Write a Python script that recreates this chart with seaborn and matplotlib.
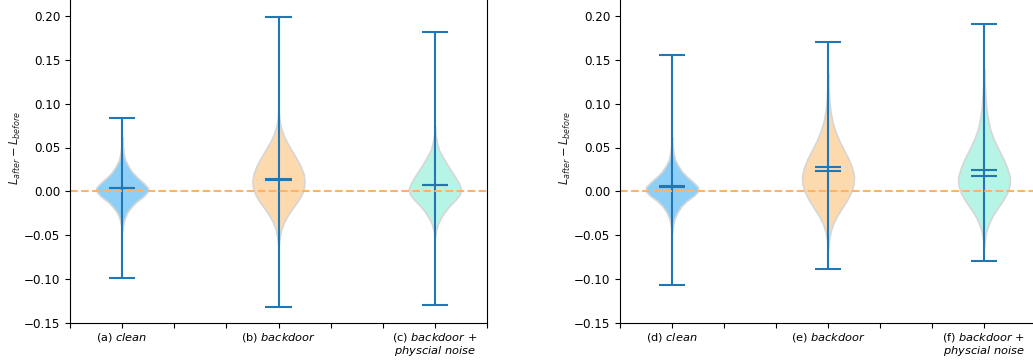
import numpy as np
import matplotlib
matplotlib.use("Agg")
import matplotlib.pyplot as plt
import seaborn as sns

# violin positions and labels
positions = [1, 2.5, 4]
labels_left = [r'(a) $\it{clean}$', r'(b) $\it{backdoor}$',
               r'(c) $\it{backdoor}$ $\it{+}$' + '\n' + r'$\it{physcial}$ $\it{noise}$']
labels_right = [r'(d) $\it{clean}$', r'(e) $\it{backdoor}$',
                r'(f) $\it{backdoor}$ $\it{+}$' + '\n' + r'$\it{physcial}$ $\it{noise}$']
fill_colors = ['#8ECFF7', '#FDD9AE', '#B6F5E6']

# density profiles (value, relative width)
a_y = [0.062, 0.052, 0.044, 0.036, 0.029, 0.022, 0.016, 0.010, 0.004, -0.001, -0.006,
       -0.012, -0.018, -0.024, -0.031, -0.038, -0.046]
a_w = [0, 0.6, 1.5, 3, 6, 10, 15, 21, 26, 25, 21, 14, 9, 5, 2.5, 1, 0]
b_y = [0.095, 0.084, 0.074, 0.065, 0.056, 0.047, 0.038, 0.029, 0.020, 0.012, 0.004,
       -0.004, -0.012, -0.020, -0.028, -0.036, -0.044, -0.053, -0.063]
b_w = [0, 0.6, 2, 4.5, 8, 12.5, 17, 21, 24, 25, 24.5, 22, 18, 13, 8.5, 5, 2.5, 1, 0]
c_y = [0.075, 0.065, 0.056, 0.047, 0.039, 0.031, 0.023, 0.016, 0.009, 0.003, -0.003,
       -0.009, -0.016, -0.023, -0.030, -0.037, -0.045, -0.053]
c_w = [0, 0.6, 2, 4, 8, 12, 16.5, 20.5, 24, 26, 25, 21, 15, 10, 6, 3, 1, 0]
d_y = [0.062, 0.052, 0.044, 0.036, 0.029, 0.022, 0.016, 0.011, 0.005, 0.000, -0.005,
       -0.011, -0.017, -0.024, -0.031, -0.039, -0.048]
d_w = [0, 0.6, 1.5, 3, 6, 10, 15, 20, 25, 25, 21, 14, 9, 5, 2.5, 1, 0]
e_y = [0.135, 0.118, 0.104, 0.091, 0.079, 0.068, 0.057, 0.047, 0.037, 0.027, 0.017,
       0.008, -0.001, -0.010, -0.019, -0.028, -0.037, -0.046, -0.055, -0.066]
e_w = [0, 0.5, 1.3, 2.5, 4.5, 7.5, 11.5, 16, 20.5, 24, 26, 25.5, 23, 19, 14, 9, 5, 2.5, 1, 0]
f_y = [0.140, 0.124, 0.110, 0.096, 0.083, 0.071, 0.060, 0.049, 0.038, 0.027, 0.016,
       0.007, -0.002, -0.011, -0.020, -0.029, -0.038, -0.047, -0.055, -0.063]
f_w = [0, 0.5, 1.3, 2.2, 3.8, 6, 9.5, 14, 19, 23, 26, 25.5, 23, 18.5, 13, 8, 4.5, 2, 0.8, 0]

# summary stats per violin
left_min = [-0.0984, -0.1315, -0.1295]
left_max = [0.0834, 0.1992, 0.1814]
left_mean = [0.0042, 0.0138, 0.0073]
left_median = [0.0035, 0.0132, 0.0068]
right_min = [-0.1067, -0.0888, -0.0794]
right_max = [0.1555, 0.170, 0.1905]
right_mean = [0.0058, 0.0282, 0.0241]
right_median = [0.0052, 0.0229, 0.0179]

sns.set_style("ticks")
plt.rcParams['font.family'] = ['DejaVu Sans']


def make_stats(profiles, mins, maxs, means, medians):
    out = []
    for (ys, ws), lo, hi, mu, med in zip(profiles, mins, maxs, means, medians):
        out.append(dict(coords=np.array(ys), vals=np.array(ws, dtype=float),
                        min=lo, max=hi, mean=mu, median=med))
    return out


def draw(ax, stats, labels):
    parts = ax.violin(stats, positions=positions, widths=0.5,
                      showmeans=True, showmedians=True, showextrema=True)
    for body, col in zip(parts['bodies'], fill_colors):
        body.set_facecolor(col)
        body.set_edgecolor('#D6D6D6')
        body.set_linewidth(1.2)
        body.set_alpha(1)
    for key in ['cbars', 'cmins', 'cmaxes', 'cmeans', 'cmedians']:
        parts[key].set_color('#1f77b4')
        parts[key].set_linewidth(1.5)
    ax.axhline(0, color='#FFB366', linestyle='--', linewidth=1.5)
    ax.set_xlim(0.5, 4.5)
    ax.set_ylim(-0.15, 0.25)
    ticks = np.arange(0.5, 4.51, 0.5)
    ax.set_xticks(ticks)
    tl = []
    for t in ticks:
        tl.append(labels[positions.index(t)] if t in positions else '')
    ax.set_xticklabels(tl, fontsize=8.2, linespacing=0.95)
    ax.set_yticks([-0.15, -0.10, -0.05, 0.0, 0.05, 0.10, 0.15, 0.20])
    ax.tick_params(axis='y', labelsize=8.6)
    ax.tick_params(axis='x', pad=2.5)
    ax.tick_params(colors='black', length=3.5)
    for sp in ax.spines.values():
        sp.set_color('black')
        sp.set_linewidth(0.8)
    ax.set_ylabel(r'$L_{after} - L_{before}$', fontsize=8.3, labelpad=1)


fig = plt.figure(figsize=(10.33, 3.64), dpi=100)
ax1 = fig.add_axes([70 / 1033, 41 / 364, 417 / 1033, 351 / 364])
ax2 = fig.add_axes([620 / 1033, 41 / 364, 416 / 1033, 351 / 364])

draw(ax1, make_stats([(a_y, a_w), (b_y, b_w), (c_y, c_w)],
                     left_min, left_max, left_mean, left_median), labels_left)
draw(ax2, make_stats([(d_y, d_w), (e_y, e_w), (f_y, f_w)],
                     right_min, right_max, right_mean, right_median), labels_right)

fig.savefig("out.png", dpi=100)
